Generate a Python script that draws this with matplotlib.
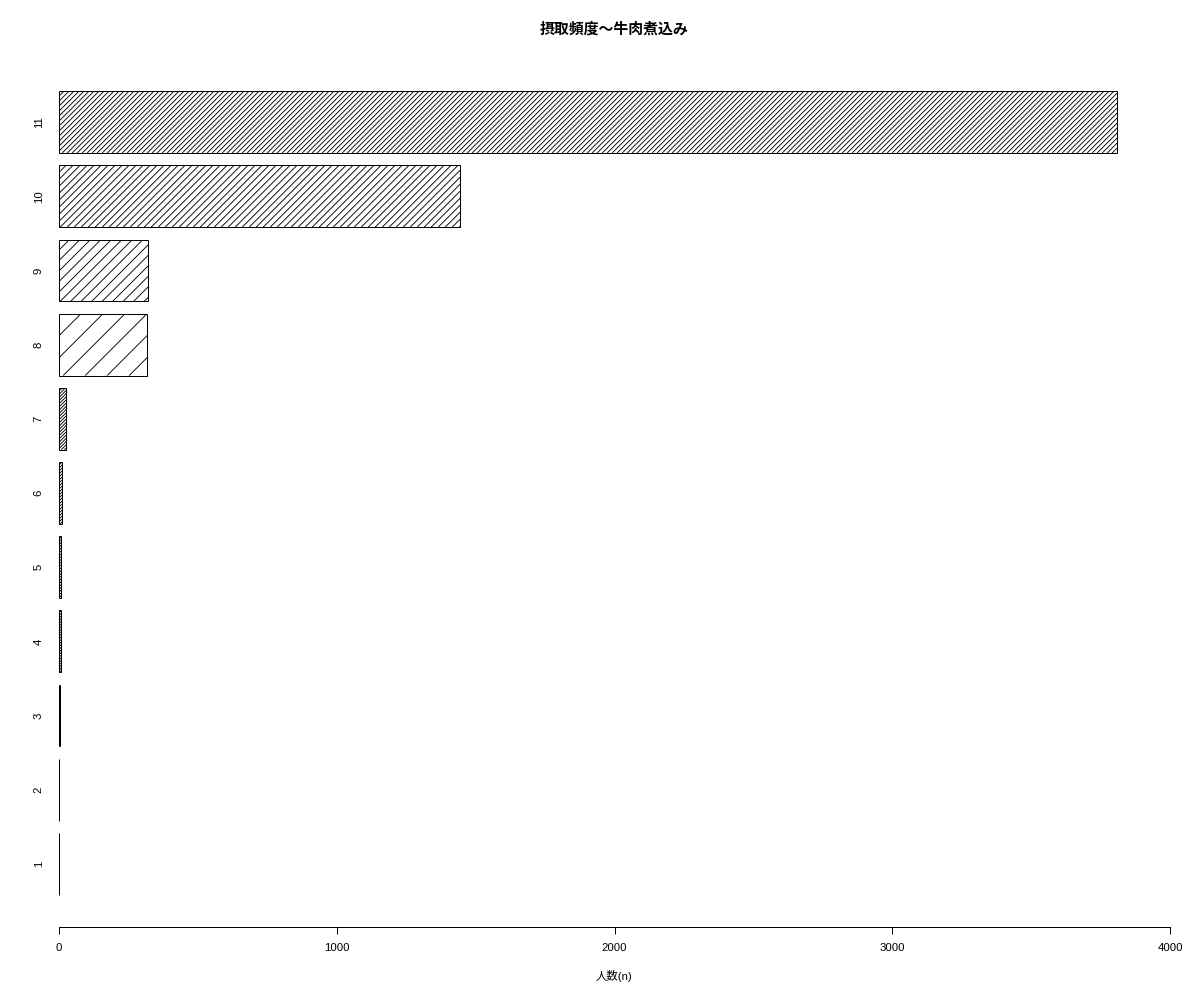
import matplotlib
matplotlib.use('Agg')
import matplotlib.pyplot as plt
from matplotlib.collections import LineCollection
import numpy as np

# 摂取頻度カテゴリと人数
categories = ['1', '2', '3', '4', '5', '6', '7', '8', '9', '10', '11']
counts = [1, 1, 3, 6, 6, 10, 24, 316, 322, 1442, 3809]
x_ticks = [0, 1000, 2000, 3000, 4000]

title = '摂取頻度〜牛肉煮込み'
xlabel = '人数(n)'

# hatch line spacing for each bar, in pixels (horizontal, like R density)
hatch_px = [2.2, 2.2, 2.4, 2.6, 2.8, 3.0, 3.2, 22, 10.5, 7, 5]

plt.rcParams['font.family'] = ['Liberation Sans', 'Noto Sans CJK JP', 'DejaVu Sans']

DPI = 130
fig = plt.figure(figsize=(1200 / DPI, 1000 / DPI), dpi=DPI)
ax_w_px, ax_h_px = 1111, 868
ax = fig.add_axes([59 / 1200, 73 / 1000, ax_w_px / 1200, ax_h_px / 1000])

xlim = (0, 4000)
ylim = (-0.32, 13.72)
ax.set_xlim(*xlim)
ax.set_ylim(*ylim)
xpp = (xlim[1] - xlim[0]) / ax_w_px   # data units per pixel
ypp = (ylim[1] - ylim[0]) / ax_h_px

# R barplot layout: width 1, space 0.2
pos = 0.7 + 1.2 * np.arange(len(categories))
for p, v, sp in zip(pos, counts, hatch_px):
    bg = ax.barh(p, v, height=1.0, left=0, color='white', edgecolor='none',
                 zorder=1)[0]
    # 45 degree hatch lines, clipped to the bar
    h_px = 1.0 / ypp
    w_px = v / xpp
    offs = np.arange(-h_px, w_px + sp, sp)
    segs = [[(o * xpp, p - 0.5), ((o + h_px) * xpp, p + 0.5)] for o in offs]
    lc = LineCollection(segs, colors='black', linewidths=0.5, zorder=1.5)
    ax.add_collection(lc, autolim=False)
    lc.set_clip_path(bg)
    ax.barh(p, v, height=1.0, left=0, color='none', edgecolor='black',
            linewidth=0.55, zorder=2)

ax.set_xlim(*xlim)
ax.set_ylim(*ylim)

ax.set_xticks(x_ticks)
ax.set_xticklabels([str(t) for t in x_ticks])
ax.set_yticks(pos)
ax.set_yticklabels(categories, rotation=90, va='center')

ax.tick_params(axis='x', direction='out', length=3.9, width=0.55,
               pad=5, labelsize=6.3)
ax.tick_params(axis='y', length=0, pad=8.5, labelsize=6.3)

for s in ['top', 'right', 'left']:
    ax.spines[s].set_visible(False)
ax.spines['bottom'].set_linewidth(0.55)

fig.text(614.5 / 1200, 1 - 29 / 1000, title, ha='center', va='center',
         fontsize=8.25, fontweight='bold')
fig.text(614.5 / 1200, 1 - 976 / 1000, xlabel, ha='center', va='center',
         fontsize=6.3)

fig.savefig('out.png', dpi=DPI)
